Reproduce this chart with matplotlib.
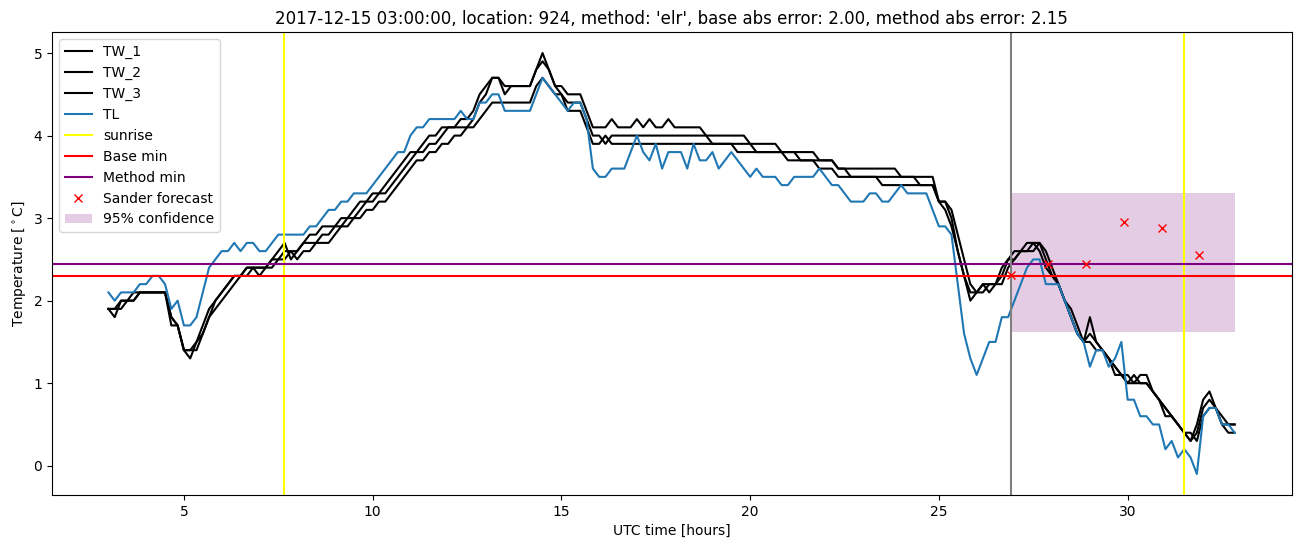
import numpy as np
import matplotlib
matplotlib.use("Agg")
import matplotlib.pyplot as plt

# -------------------------------------------------------------------
# Data (10 minute samples, hours 3.0 .. 32.83)
# -------------------------------------------------------------------

tl = [
    2.1, 2.0, 2.1, 2.1, 2.1, 2.2,   # 3
    2.2, 2.3, 2.3, 2.2, 1.9, 2.0,   # 4
    1.7, 1.7, 1.8, 2.1, 2.4, 2.5,   # 5
    2.6, 2.6, 2.7, 2.6, 2.7, 2.7,   # 6
    2.6, 2.6, 2.7, 2.8, 2.8, 2.8,   # 7
    2.8, 2.8, 2.9, 2.9, 3.0, 3.1,   # 8
    3.1, 3.2, 3.2, 3.3, 3.3, 3.3,   # 9
    3.4, 3.5, 3.6, 3.7, 3.8, 3.8,   # 10
    4.0, 4.1, 4.1, 4.2, 4.2, 4.2,   # 11
    4.2, 4.2, 4.3, 4.2, 4.2, 4.4,   # 12
    4.4, 4.5, 4.5, 4.3, 4.3, 4.3,   # 13
    4.3, 4.3, 4.5, 4.7, 4.6, 4.5,   # 14
    4.4, 4.3, 4.4, 4.4, 4.2, 3.6,   # 15
    3.5, 3.5, 3.6, 3.6, 3.6, 3.8,   # 16
    4.0, 3.8, 3.7, 3.9, 3.6, 3.8,   # 17
    3.8, 3.8, 3.6, 3.9, 3.7, 3.7,   # 18
    3.8, 3.6, 3.7, 3.8, 3.7, 3.6,   # 19
    3.5, 3.6, 3.5, 3.5, 3.5, 3.4,   # 20
    3.4, 3.5, 3.5, 3.5, 3.5, 3.6,   # 21
    3.5, 3.4, 3.4, 3.3, 3.2, 3.2,   # 22
    3.2, 3.3, 3.3, 3.2, 3.2, 3.3,   # 23
    3.4, 3.3, 3.3, 3.3, 3.3, 3.1,   # 24
    2.9, 2.9, 2.8, 2.2, 1.6, 1.3,   # 25
    1.1, 1.3, 1.5, 1.5, 1.8, 1.8,   # 26
    2.0, 2.2, 2.4, 2.5, 2.5, 2.2,   # 27
    2.2, 2.2, 2.0, 1.8, 1.6, 1.5,   # 28
    1.2, 1.4, 1.4, 1.2, 1.3, 1.5,   # 29
    0.8, 0.8, 0.6, 0.6, 0.5, 0.5,   # 30
    0.2, 0.3, 0.1, 0.2, 0.1, -0.1,  # 31
    0.6, 0.7, 0.7, 0.5, 0.5, 0.4,   # 32
]

tw_1 = [
    1.9, 1.8, 2.0, 2.0, 2.1, 2.1,
    2.1, 2.1, 2.1, 2.1, 1.8, 1.7,
    1.4, 1.3, 1.5, 1.7, 1.9, 2.0,
    2.1, 2.2, 2.3, 2.3, 2.4, 2.4,
    2.3, 2.4, 2.5, 2.6, 2.7, 2.5,
    2.6, 2.7, 2.8, 2.8, 2.9, 2.9,
    2.9, 3.0, 3.0, 3.1, 3.2, 3.2,
    3.3, 3.3, 3.4, 3.5, 3.6, 3.7,
    3.8, 3.8, 3.9, 4.0, 4.0, 4.1,
    4.1, 4.1, 4.2, 4.2, 4.3, 4.5,
    4.6, 4.7, 4.7, 4.5, 4.6, 4.6,
    4.6, 4.6, 4.8, 5.0, 4.8, 4.6,
    4.6, 4.5, 4.5, 4.5, 4.3, 4.1,
    4.1, 4.1, 4.2, 4.1, 4.1, 4.1,
    4.2, 4.1, 4.2, 4.1, 4.1, 4.2,
    4.1, 4.1, 4.1, 4.1, 4.1, 4.0,
    4.0, 4.0, 4.0, 4.0, 4.0, 4.0,
    3.9, 3.9, 3.9, 3.9, 3.9, 3.8,
    3.8, 3.8, 3.8, 3.8, 3.8, 3.7,
    3.7, 3.7, 3.6, 3.6, 3.6, 3.6,
    3.6, 3.6, 3.6, 3.6, 3.6, 3.6,
    3.5, 3.5, 3.5, 3.5, 3.5, 3.5,
    3.2, 3.2, 3.0, 2.6, 2.3, 2.1,
    2.1, 2.2, 2.2, 2.2, 2.4, 2.5,
    2.6, 2.6, 2.7, 2.7, 2.6, 2.4,
    2.3, 2.2, 2.0, 1.8, 1.6, 1.5,
    1.6, 1.5, 1.4, 1.3, 1.1, 1.1,
    1.0, 1.0, 1.1, 1.1, 0.9, 0.8,
    0.6, 0.6, 0.5, 0.4, 0.3, 0.5,
    0.8, 0.9, 0.7, 0.5, 0.4, 0.4,
]

tw_2 = [
    1.9, 1.9, 1.9, 2.0, 2.0, 2.1,
    2.1, 2.1, 2.1, 2.1, 1.7, 1.7,
    1.4, 1.4, 1.5, 1.6, 1.8, 2.0,
    2.1, 2.2, 2.3, 2.3, 2.4, 2.4,
    2.4, 2.4, 2.5, 2.5, 2.6, 2.6,
    2.6, 2.7, 2.7, 2.7, 2.8, 2.8,
    2.9, 2.9, 3.0, 3.0, 3.1, 3.2,
    3.2, 3.3, 3.3, 3.4, 3.5, 3.6,
    3.7, 3.8, 3.8, 3.9, 3.9, 4.0,
    4.1, 4.1, 4.1, 4.1, 4.2, 4.4,
    4.5, 4.7, 4.7, 4.6, 4.6, 4.6,
    4.6, 4.6, 4.8, 4.9, 4.8, 4.6,
    4.5, 4.4, 4.4, 4.4, 4.2, 4.0,
    4.0, 3.9, 4.0, 4.0, 4.0, 4.0,
    4.0, 4.0, 4.0, 4.0, 4.0, 4.0,
    4.0, 4.0, 4.0, 4.0, 4.0, 4.0,
    3.9, 3.9, 3.9, 3.9, 3.9, 3.9,
    3.9, 3.8, 3.8, 3.8, 3.8, 3.8,
    3.8, 3.8, 3.7, 3.7, 3.7, 3.7,
    3.7, 3.7, 3.6, 3.6, 3.5, 3.5,
    3.5, 3.5, 3.5, 3.5, 3.5, 3.5,
    3.5, 3.5, 3.5, 3.4, 3.4, 3.4,
    3.2, 3.1, 2.9, 2.6, 2.3, 2.0,
    2.1, 2.2, 2.1, 2.2, 2.3, 2.5,
    2.5, 2.6, 2.6, 2.7, 2.7, 2.5,
    2.3, 2.2, 2.0, 1.8, 1.6, 1.5,
    1.5, 1.4, 1.4, 1.3, 1.2, 1.1,
    1.1, 1.0, 1.0, 1.0, 0.9, 0.8,
    0.7, 0.6, 0.5, 0.4, 0.3, 0.4,
    0.7, 0.8, 0.7, 0.5, 0.5, 0.5,
]

tw_3 = [
    1.9, 1.9, 2.0, 2.0, 2.0, 2.1,
    2.1, 2.1, 2.1, 2.1, 1.8, 1.7,
    1.4, 1.4, 1.4, 1.6, 1.8, 1.9,
    2.0, 2.1, 2.2, 2.3, 2.3, 2.4,
    2.4, 2.4, 2.4, 2.5, 2.5, 2.6,
    2.5, 2.6, 2.6, 2.7, 2.7, 2.7,
    2.8, 2.9, 2.9, 3.0, 3.0, 3.1,
    3.1, 3.2, 3.2, 3.3, 3.4, 3.5,
    3.6, 3.7, 3.7, 3.8, 3.8, 3.9,
    3.9, 4.0, 4.0, 4.1, 4.1, 4.2,
    4.3, 4.4, 4.4, 4.4, 4.4, 4.4,
    4.4, 4.4, 4.6, 4.7, 4.6, 4.5,
    4.5, 4.3, 4.3, 4.3, 4.1, 3.9,
    3.9, 4.0, 3.9, 3.9, 3.9, 3.9,
    3.9, 3.9, 3.9, 3.9, 3.9, 3.9,
    3.9, 3.9, 3.9, 3.9, 3.9, 3.9,
    3.9, 3.9, 3.9, 3.9, 3.8, 3.8,
    3.8, 3.8, 3.8, 3.8, 3.8, 3.8,
    3.7, 3.7, 3.7, 3.7, 3.7, 3.6,
    3.6, 3.6, 3.5, 3.5, 3.5, 3.5,
    3.5, 3.5, 3.5, 3.4, 3.4, 3.4,
    3.4, 3.4, 3.4, 3.4, 3.4, 3.4,
    3.2, 3.2, 3.1, 2.8, 2.5, 2.2,
    2.1, 2.1, 2.2, 2.2, 2.2, 2.4,
    2.5, 2.6, 2.6, 2.6, 2.7, 2.6,
    2.4, 2.2, 2.0, 1.9, 1.7, 1.5,
    1.8, 1.5, 1.4, 1.3, 1.2, 1.1,
    1.0, 1.1, 1.0, 1.0, 0.9, 0.8,
    0.7, 0.6, 0.5, 0.4, 0.4, 0.3,
    0.6, 0.7, 0.7, 0.6, 0.5, 0.5,
]

start_hour = 3.0
step_hours = 1 / 6

sunrise_hours = [7.64, 31.48]
forecast_start = 26.9
band_end = 32.85
forecast_hours = [26.9, 27.9, 28.9, 29.9, 30.9, 31.9]
forecast_values = [2.31, 2.45, 2.44, 2.95, 2.88, 2.55]
conf_low, conf_high = 1.62, 3.3
base_min = 2.3
method_min = 2.45

title = ("2017-12-15 03:00:00, location: 924, method: 'elr', "
         "base abs error: 2.00, method abs error: 2.15")

# -------------------------------------------------------------------
# Plot
# -------------------------------------------------------------------

hours = start_hour + step_hours * np.arange(len(tl))

fig, ax = plt.subplots(figsize=(13.02, 5.47), dpi=100)
fig.subplots_adjust(left=0.040, right=0.992, top=0.9415, bottom=0.095)

ax.plot(hours, tw_1, color="black", label="TW_1")
ax.plot(hours, tw_2, color="black", label="TW_2")
ax.plot(hours, tw_3, color="black", label="TW_3")
ax.plot(hours, tl, color="C0", label="TL")

for i, sr in enumerate(sunrise_hours):
    ax.axvline(sr, color="yellow", label="sunrise" if i == 0 else None)

ax.axhline(base_min, color="red", label="Base min")
ax.axhline(method_min, color="purple", label="Method min")
ax.axvline(forecast_start, color="gray")

ax.plot(forecast_hours, forecast_values, "x", color="red", label="Sander forecast")
ax.fill_between([forecast_start, band_end], conf_low, conf_high,
                color="purple", alpha=0.2, linewidth=0, label="95% confidence")

ax.set_xlabel("UTC time [hours]")
ax.set_ylabel(r"Temperature [$^\circ$C]")
ax.set_title(title)
ax.legend(loc="upper left")

fig.savefig("out.png")
